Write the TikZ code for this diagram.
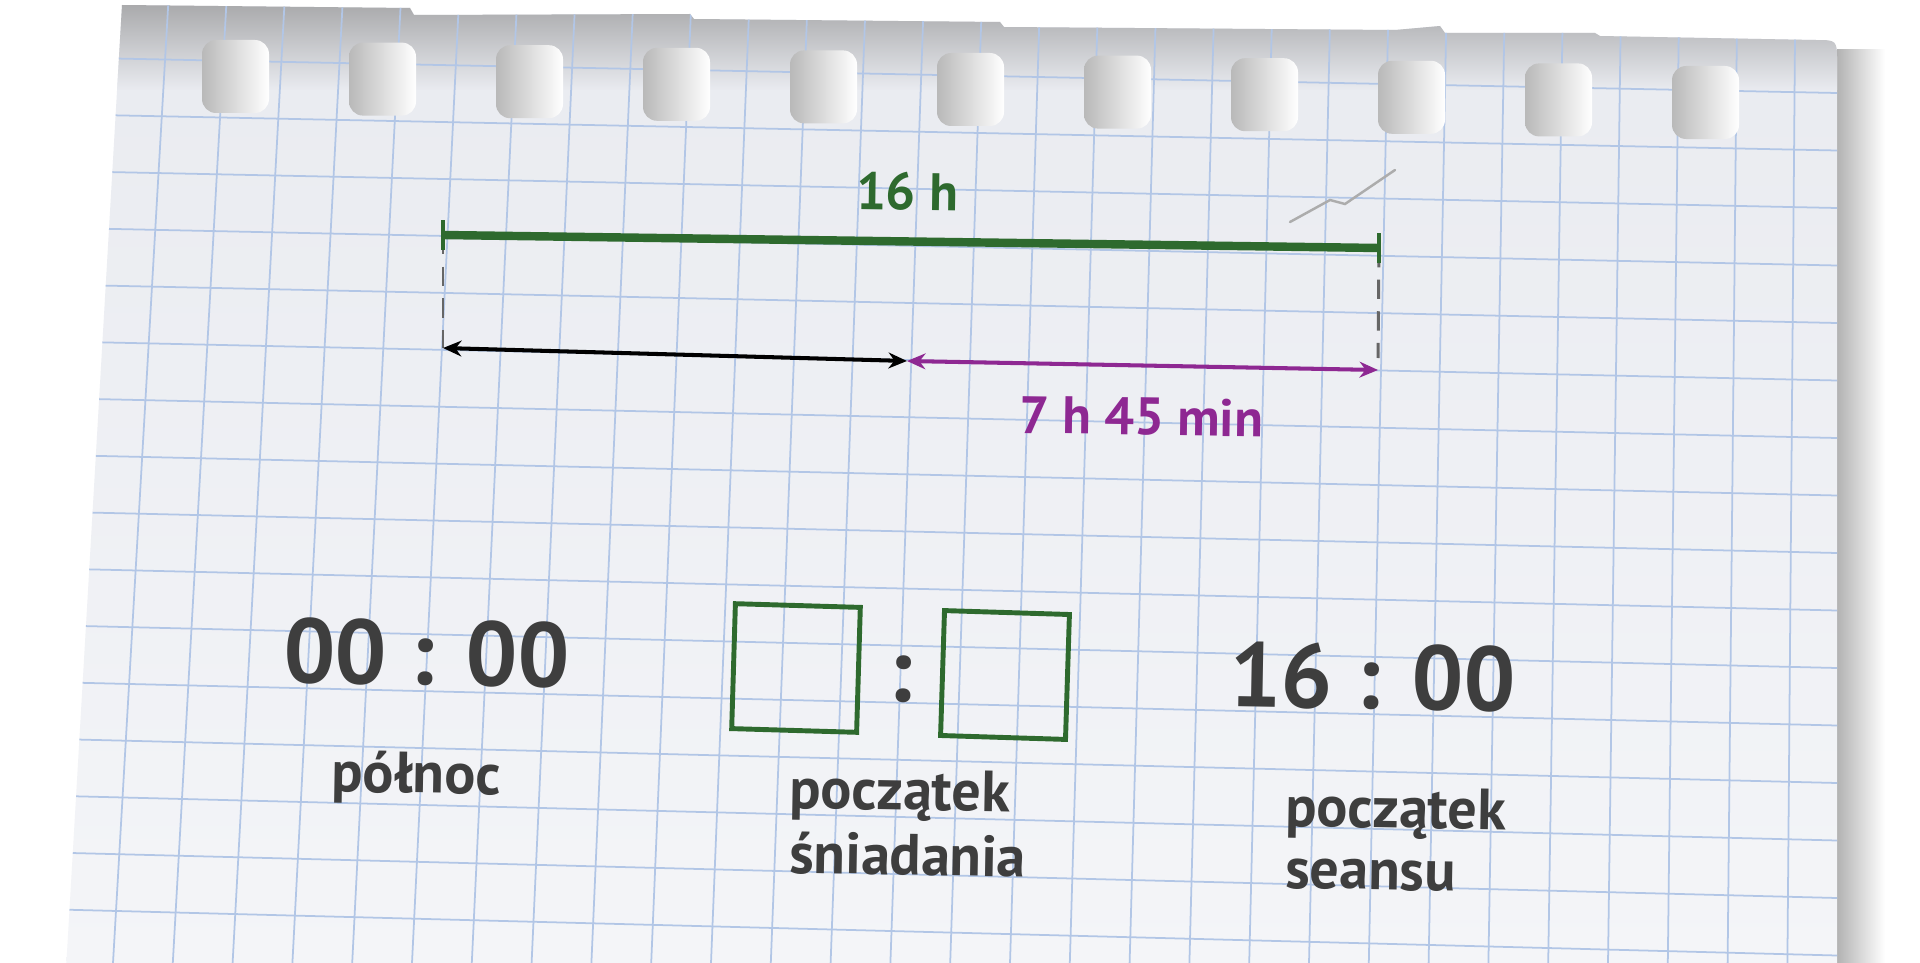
\documentclass[tikz,border=0pt]{standalone}
\usepackage{fontspec}
\setmainfont{PT Sans}
\usetikzlibrary{positioning, arrows.meta, calc}
\definecolor{papertop}{RGB}{233,235,240}
\definecolor{paper}{RGB}{238,239,244}
\definecolor{paperbottom}{RGB}{244,245,248}
\definecolor{gridblue}{RGB}{178,198,230}
\definecolor{darkgreen}{RGB}{46,106,46}
\definecolor{purpleline}{RGB}{142,40,146}
\definecolor{textgray}{RGB}{62,62,62}
\tikzset{gridline/.style={draw=gridblue, line width=1pt}}

\begin{document}
\begin{tikzpicture}[
		x=0.02cm, y=0.02cm,
		time/.style={font=\bfseries\fontsize{52}{60}\selectfont, text=textgray, inner sep=0pt, anchor=base, rotate=-1},
		desc/.style={font=\bfseries\fontsize{33}{40}\selectfont, text=textgray, inner sep=0pt, anchor=base west, rotate=-1},
		measure/.style={font=\bfseries\fontsize{30}{36}\selectfont, inner sep=0pt, anchor=base, rotate=-0.8},
		slot/.style={draw=darkgreen, line width=2.8pt, minimum size=2.5cm, inner sep=0pt},
		arrow/.style={{Stealth[length=10.5pt,width=9pt]}-{Stealth[length=10.5pt,width=9pt]}, line width=2.3pt},
		guide/.style={draw=black!60, line width=1.7pt, dash pattern=on 11pt off 7pt},
		spanbar/.style={draw=darkgreen, line width=4.8pt},
		endtick/.style={draw=darkgreen, line width=2.8pt}
		]
		\useasboundingbox (0,0) rectangle (1920,-963);
		\fill[white] (0,0) rectangle (1920,-963);
		% Sheet of paper
		\shade[left color=black!30, right color=white] (1837,-50) rectangle (1885,-963);
		\shade[top color=papertop, bottom color=paperbottom] (122,-5) -- (410,-8) -- (414,-15) -- (690,-14) -- (694,-19) -- (1000,-22) -- (1004,-27) -- (1395,-30) -- (1440,-26) -- (1445,-33) -- (1595,-33) -- (1600,-36) -- (1815,-40) .. controls (1837,-40) .. (1837,-62) -- (1837,-970) -- (66,-970) -- cycle;
		\begin{scope}
			\clip (122,-5) -- (410,-8) -- (414,-15) -- (690,-14) -- (694,-19) -- (1000,-22) -- (1004,-27) -- (1395,-30) -- (1440,-26) -- (1445,-33) -- (1595,-33) -- (1600,-36) -- (1815,-40) .. controls (1837,-40) .. (1837,-62) -- (1837,-970) -- (66,-970) -- cycle;
			\shade[top color=gray!65!paper, bottom color=papertop] (0,0) rectangle (1920,-90);
			\foreach \k in {0,...,16}
				\draw[gridline] (40,{-(57+56.8*\k)}) -- (1837,{-(93+57.5*\k)});
			\foreach \j in {0,...,28}
				\draw[gridline] ({168.5+58.1*\j},0) -- ({113+59.8*\j},-963);
		\end{scope}
		\foreach \k in {0,...,10}
			\shade[left color=gray!55, right color=white, rounded corners=8pt] ({202+147*\k},{-40-2.6*\k}) rectangle ++(67,-73);
		\draw[gray!65, line width=1.4pt, line cap=round] (1290,-222) -- (1330,-200) -- (1345,-204) -- (1395,-170);

		% Time spans
		\coordinate (start) at (443,-235);
		\coordinate (end) at (1379,-248);
		\coordinate (startlow) at (443,-348);
		\coordinate (endlow) at (1378,-370);
		\coordinate (breakfast) at (907,-361);
		\draw[guide] (start) -- (startlow);
		\draw[guide] (end) -- ($(endlow)+(0,12)$);
		\draw[spanbar] (start) -- (end);
		\draw[endtick] ($(start)+(0,15)$) -- ($(start)+(0,-15)$);
		\draw[endtick] ($(end)+(0,15)$) -- ($(end)+(0,-15)$);
		\node[measure, text=darkgreen] (total) at (907,-210) {16 h};
		\draw[arrow, black] (startlow) -- (breakfast);
		\draw[arrow, purpleline] (breakfast) -- (endlow);
		\node[measure, text=purpleline] (rest) at (1141,-435) {7 h 45 min};

		% Clock times
		\node[time] (midnight) at (426,-685) {00 : 00};
		\node[desc, anchor=base] (midnightlbl) at (416,-793) {północ};
		\node[slot, rotate=-1.7] (hours) at (796,-668) {};
		\node[time] (colon) at (900,-702) {:};
		\node[slot, rotate=-1.8] (minutes) at (1005,-675) {};
		\node[desc] (breakfastlbl) at (789,-808) {początek};
		\node[desc] (breakfastlbltwo) at (789,-873) {śniadania};
		\node[time] (show) at (1372,-709) {16 : 00};
		\node[desc] (showlbl) at (1285,-826) {początek};
		\node[desc] (showlbltwo) at (1285,-888) {seansu};
	\end{tikzpicture}
\end{document}
